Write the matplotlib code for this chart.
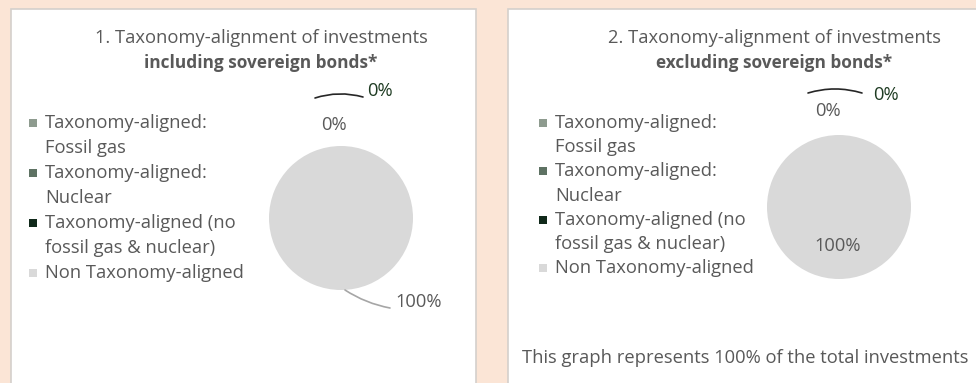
import matplotlib.pyplot as plt
from matplotlib.patches import Rectangle, FancyArrowPatch

W, H = 976, 383
DPI = 100

categories = [
    "Taxonomy-aligned:\nFossil gas",
    "Taxonomy-aligned:\nNuclear",
    "Taxonomy-aligned (no\nfossil gas & nuclear)",
    "Non Taxonomy-aligned",
]
incl_values = [0, 0, 0, 100]
excl_values = [0, 0, 0, 100]
slice_colors = ["#8e9b8f", "#5e7263", "#10291a", "#d9d9d9"]

titles = [
    ("1. Taxonomy-alignment of investments", "including sovereign bonds*"),
    ("2. Taxonomy-alignment of investments", "excluding sovereign bonds*"),
]
footnote = "This graph represents 100% of the total investments"

TEXT = "#595959"
FS = 13.2
plt.rcParams["font.family"] = ["Open Sans", "DejaVu Sans"]


def fy(y):
    # pixel row (from top) -> figure pixels from bottom
    return H - y


def pct(values):
    total = sum(values)
    return [f"{v / total * 100:.0f}%" for v in values]


def put(x, y, s, **kw):
    kw.setdefault("fontsize", FS)
    kw.setdefault("color", TEXT)
    kw.setdefault("va", "center")
    fig.text(x / W, fy(y) / H, s, **kw)


fig = plt.figure(figsize=(W / DPI, H / DPI), dpi=DPI)
fig.patch.set_facecolor("#fbe5d6")

# white panels
for x0, x1 in [(11, 476), (508, 990)]:
    fig.patches.append(Rectangle((x0, -5), x1 - x0, fy(9) + 5, transform=None,
                                 facecolor="white", edgecolor="#d4d0cc", lw=1.2,
                                 zorder=-10))


def draw_panel(title_x, values, title, pie_c, legend_x, legend_y0, row_h, labels_pos):
    t1, t2 = title
    put(title_x, 38, t1, ha="center")
    put(title_x, 63, t2, ha="center", fontweight="bold", fontsize=12.4)

    # pie
    r = 72
    ax = fig.add_axes([(pie_c[0] - r) / W, (fy(pie_c[1]) - r) / H, 2 * r / W, 2 * r / H])
    ax.pie(values, colors=slice_colors, startangle=90, counterclock=False,
           wedgeprops=dict(linewidth=0))
    ax.set_xlim(-1, 1)
    ax.set_ylim(-1, 1)
    ax.set_aspect("equal")
    ax.axis("off")

    # legend, one text per line so row spacing is even
    row = 0
    for name, col in zip(categories, slice_colors):
        y = legend_y0 + row * row_h
        fig.patches.append(Rectangle((legend_x - 4, fy(y) - 4), 8, 8, transform=None,
                                     facecolor=col, edgecolor="none"))
        for line in name.split("\n"):
            put(legend_x + 12, legend_y0 + row * row_h, line, ha="left")
            row += 1

    # data labels
    labels = pct(values)
    for idx, x, y, color, line in labels_pos:
        put(x, y, labels[idx], ha="center", color=color)
        if line is not None:
            (x0, y0), (x1, y1), rad, lc = line
            fig.patches.append(FancyArrowPatch(
                (x0, fy(y0)), (x1, fy(y1)), transform=None, arrowstyle="-",
                connectionstyle=f"arc3,rad={rad}", color=lc, lw=1.2,
                shrinkA=0, shrinkB=0))


draw_panel(
    261, incl_values, titles[0], (341, 218), 33, 123, 25.0,
    [
        (2, 380, 91, "#1e3b22", ((315, 98), (363, 97), -0.15, "#262626")),
        (1, 334, 125, TEXT, None),
        (3, 419, 302, TEXT, ((345, 290), (390, 308), 0.1, "#a6a6a6")),
    ],
)
draw_panel(
    774, excl_values, titles[1], (839, 207), 543, 123, 24.2,
    [
        (2, 886, 95, "#1e3b22", ((808, 93), (862, 93), -0.15, "#262626")),
        (1, 828, 111, TEXT, None),
        (3, 838, 246, TEXT, None),
    ],
)

put(745, 358, footnote, ha="center")

fig.savefig("out.png", dpi=DPI)
